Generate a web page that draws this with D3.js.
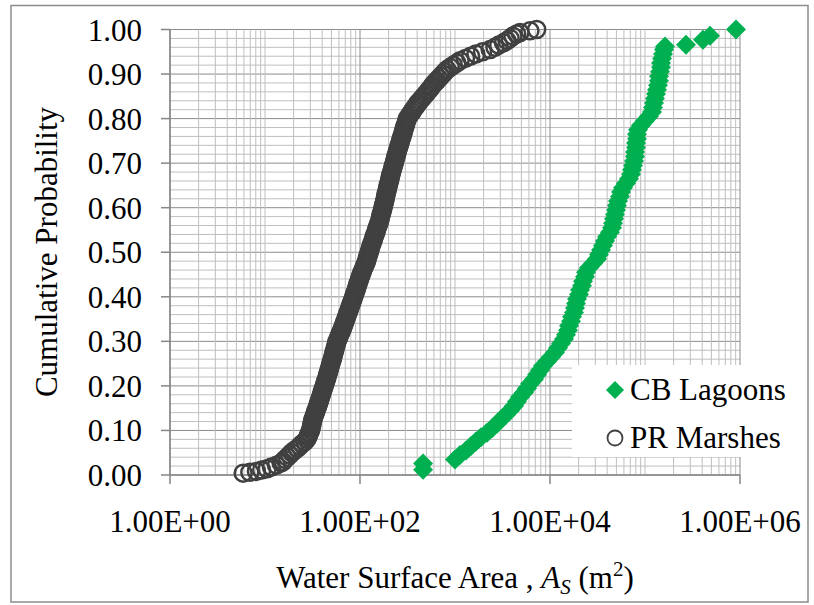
<!DOCTYPE html>
<html lang="en">
<head>
<meta charset="utf-8">
<title>Cumulative probability of water surface area</title>
<script src="https://cdn.jsdelivr.net/npm/d3@7"></script>
<style>
  body { margin: 0; background: #fff; }
</style>
</head>
<body>
<div id="drawing"></div>
<script>
// PR Marshes: water surface area (m2) and cumulative probability
var prArea = [5.89, 6.92, 8.13, 9.23, 10.5, 11.7, 13.2, 14.8,
  15.5, 16.2, 17.2, 18.2, 19.1, 20.4, 21.9, 23.2, 24.5, 26.3,
  27.5, 28.2, 28.8, 29.5, 30.2, 30.5, 30.9, 31.3, 31.6, 32.0,
  32.6, 33.3, 33.9, 34.5, 35.2, 35.9, 36.6, 37.2, 37.8, 38.5,
  39.3, 39.8, 40.6, 41.2, 42.0, 42.8, 43.4, 44.3, 45.0, 45.7,
  46.5, 47.2, 47.9, 48.6, 49.4, 50.2, 51.1, 51.8, 52.5, 53.3,
  54.1, 54.8, 55.7, 56.5, 57.3, 58.6, 60.0, 61.4, 62.7, 64.1,
  65.6, 67.0, 68.2, 69.5, 70.8, 72.3, 73.6, 75.2, 76.6, 78.0,
  79.6, 81.1, 82.6, 84.3, 85.9, 87.5, 89.1, 90.8, 92.3, 94.0,
  95.5, 97.3, 99.1, 101, 103, 105, 107, 110, 112, 115,
  117, 119, 121, 123, 125, 127, 129, 131, 134, 136,
  139, 141, 144, 147, 149, 152, 155, 158, 161, 163,
  165, 167, 170, 172, 175, 177, 179, 182, 184, 186,
  188, 191, 193, 196, 198, 201, 204, 207, 209, 212,
  215, 219, 222, 225, 229, 232, 236, 239, 243, 246,
  250, 255, 259, 263, 267, 272, 277, 281, 286, 290,
  295, 300, 305, 310, 315, 327, 339, 352, 365, 379,
  394, 408, 428, 448, 469, 491, 514, 538, 562, 582,
  611, 643, 676, 708, 745, 783, 824, 891, 962, 1047,
  1130, 1288, 1462, 1660, 1950, 2344, 2630, 2884, 3236, 3524,
  3802, 4074, 4467, 4831, 6150, 7240];
var prProb = [0.004, 0.006, 0.008, 0.011, 0.014, 0.018, 0.022, 0.027,
  0.030, 0.035, 0.040, 0.045, 0.050, 0.055, 0.060, 0.065, 0.070, 0.075,
  0.080, 0.085, 0.090, 0.095, 0.100, 0.105, 0.110, 0.115, 0.120, 0.125,
  0.130, 0.135, 0.140, 0.145, 0.150, 0.155, 0.160, 0.165, 0.170, 0.175,
  0.180, 0.185, 0.190, 0.195, 0.200, 0.205, 0.210, 0.215, 0.220, 0.225,
  0.230, 0.235, 0.240, 0.245, 0.250, 0.255, 0.260, 0.265, 0.270, 0.275,
  0.280, 0.285, 0.290, 0.295, 0.300, 0.305, 0.310, 0.315, 0.320, 0.325,
  0.330, 0.335, 0.340, 0.345, 0.350, 0.355, 0.360, 0.365, 0.370, 0.375,
  0.380, 0.385, 0.390, 0.395, 0.400, 0.405, 0.410, 0.415, 0.420, 0.425,
  0.430, 0.435, 0.440, 0.445, 0.450, 0.455, 0.460, 0.465, 0.470, 0.475,
  0.480, 0.485, 0.490, 0.495, 0.500, 0.505, 0.510, 0.515, 0.520, 0.525,
  0.530, 0.535, 0.540, 0.545, 0.550, 0.555, 0.560, 0.565, 0.570, 0.575,
  0.580, 0.585, 0.590, 0.595, 0.600, 0.605, 0.610, 0.615, 0.620, 0.625,
  0.630, 0.635, 0.640, 0.645, 0.650, 0.655, 0.660, 0.665, 0.670, 0.675,
  0.680, 0.685, 0.690, 0.695, 0.700, 0.705, 0.710, 0.715, 0.720, 0.725,
  0.730, 0.735, 0.740, 0.745, 0.750, 0.755, 0.760, 0.765, 0.770, 0.775,
  0.780, 0.785, 0.790, 0.795, 0.800, 0.805, 0.810, 0.815, 0.820, 0.825,
  0.830, 0.835, 0.840, 0.845, 0.850, 0.855, 0.860, 0.865, 0.870, 0.875,
  0.880, 0.885, 0.890, 0.895, 0.900, 0.905, 0.910, 0.915, 0.920, 0.925,
  0.930, 0.935, 0.940, 0.945, 0.950, 0.955, 0.960, 0.965, 0.970, 0.975,
  0.980, 0.985, 0.990, 0.993, 0.997, 1.000];

// CB Lagoons
var cbArea = [461, 461, 1000, 1129, 1306, 1474, 1664, 1878, 2172, 2452,
  2768, 3050, 3443, 3793, 4180, 4493, 4833, 5324, 5726, 6158,
  6785, 7298, 7848, 8440, 9299, 10245, 11290, 12140, 13060, 14040,
  14740, 15470, 15850, 16640, 17040, 17890, 18330, 18780, 19240, 20200,
  20690, 21720, 22260, 23360, 23930, 25730, 28360, 31240, 32800, 34430,
  36140, 37930, 39810, 42810, 44940, 46040, 47170, 48330, 49510, 50730,
  51970, 54560, 55900, 58670, 63100, 67850, 71220, 72970, 74760, 76600,
  78480, 78480, 80400, 80400, 82380, 82380, 84400, 90770, 100000, 110200,
  118500, 121400, 124400, 127400, 130600, 133800, 137100, 140400, 140400, 143900,
  147400, 147400, 151000, 154700, 158500, 162400, 270200, 407900, 483300, 907700];
var cbProb = [0.012, 0.026, 0.035, 0.045, 0.055, 0.065, 0.075, 0.085, 0.095, 0.105,
  0.115, 0.125, 0.135, 0.145, 0.155, 0.165, 0.175, 0.185, 0.195, 0.205,
  0.215, 0.225, 0.235, 0.245, 0.255, 0.265, 0.275, 0.285, 0.295, 0.305,
  0.315, 0.325, 0.335, 0.345, 0.355, 0.365, 0.375, 0.385, 0.395, 0.405,
  0.415, 0.425, 0.435, 0.445, 0.455, 0.465, 0.475, 0.485, 0.495, 0.505,
  0.515, 0.525, 0.535, 0.545, 0.555, 0.565, 0.575, 0.585, 0.595, 0.605,
  0.615, 0.625, 0.635, 0.645, 0.655, 0.665, 0.675, 0.685, 0.695, 0.705,
  0.715, 0.725, 0.735, 0.745, 0.755, 0.765, 0.775, 0.785, 0.795, 0.805,
  0.815, 0.825, 0.835, 0.845, 0.855, 0.865, 0.875, 0.885, 0.895, 0.905,
  0.915, 0.925, 0.935, 0.945, 0.955, 0.962, 0.966, 0.977, 0.986, 1.000];

var xTicks = [1, 1e2, 1e4, 1e6];
var yTicks = [0, 0.1, 0.2, 0.3, 0.4, 0.5, 0.6, 0.7, 0.8, 0.9, 1.0];
var seriesNames = ["CB Lagoons", "PR Marshes"];

var green = "#00b050", dark = "#404040";
var majorGrid = "#8c8c8c", minorGrid = "#bfbfbf";
var serif = "'Liberation Serif', 'Times New Roman', Times, 'DejaVu Serif', serif";

var svg = d3.select("#drawing")
    .append("svg")
    .attr("width", 814)
    .attr("height", 605)
    .attr("font-family", serif);

// chart border
svg.append("rect")
    .attr("x", 11).attr("y", 5.5)
    .attr("width", 797).attr("height", 596.5)
    .attr("fill", "none")
    .attr("stroke", "#8c8c8c")
    .attr("stroke-width", 1.5);

var x = d3.scaleLog().domain([1, 1e6]).range([170, 740]);
var y = d3.scaleLinear().domain([0, 1]).range([475, 29.5]);

function sci(v) {
    var e = Math.round(Math.log10(v));
    var m = v / Math.pow(10, e);
    return m.toFixed(2) + "E+" + (e < 10 ? "0" : "") + e;
}
function isMajorX(v) {
    return xTicks.some(function (t) { return Math.abs(t - v) / t < 1e-6; });
}

var grid = svg.append("g");

// horizontal grid, minor every 0.02
var hLines = d3.range(0, 51).map(function (i) { return i * 0.02; });
grid.selectAll("line.h").data(hLines).enter().append("line")
    .attr("x1", x(1)).attr("x2", x(1e6))
    .attr("y1", function (d) { return y(d); })
    .attr("y2", function (d) { return y(d); })
    .attr("stroke", function (d, i) { return i % 5 === 0 ? majorGrid : minorGrid; })
    .attr("stroke-width", 1);

// vertical grid, 1..9 per decade
var vLines = x.ticks();
grid.selectAll("line.v").data(vLines).enter().append("line")
    .attr("x1", function (d) { return x(d); })
    .attr("x2", function (d) { return x(d); })
    .attr("y1", y(0)).attr("y2", y(1))
    .attr("stroke", function (d) { return isMajorX(d) ? majorGrid : minorGrid; })
    .attr("stroke-width", 1);

// axes
svg.append("line")
    .attr("x1", x(1)).attr("x2", x(1e6))
    .attr("y1", y(0)).attr("y2", y(0))
    .attr("stroke", "#868686").attr("stroke-width", 1.5);
svg.append("line")
    .attr("x1", x(1)).attr("x2", x(1))
    .attr("y1", y(0)).attr("y2", y(1))
    .attr("stroke", "#868686").attr("stroke-width", 1.5);

svg.selectAll("line.xt").data(xTicks).enter().append("line")
    .attr("x1", function (d) { return x(d); })
    .attr("x2", function (d) { return x(d); })
    .attr("y1", y(0)).attr("y2", y(0) + 9)
    .attr("stroke", "#868686").attr("stroke-width", 1.5);
svg.selectAll("line.yt").data(yTicks).enter().append("line")
    .attr("x1", x(1) - 9).attr("x2", x(1))
    .attr("y1", function (d) { return y(d); })
    .attr("y2", function (d) { return y(d); })
    .attr("stroke", "#868686").attr("stroke-width", 1.5);

svg.selectAll("text.xl").data(xTicks).enter().append("text")
    .attr("x", function (d) { return x(d); })
    .attr("y", 532)
    .attr("text-anchor", "middle")
    .attr("font-size", "31px")
    .text(sci);
svg.selectAll("text.yl").data(yTicks).enter().append("text")
    .attr("x", 142)
    .attr("y", function (d) { return y(d) + 11; })
    .attr("text-anchor", "end")
    .attr("font-size", "31px")
    .text(d3.format(".2f"));

// axis titles
svg.append("text")
    .attr("transform", "translate(57,252) rotate(-90)")
    .attr("text-anchor", "middle")
    .attr("font-size", "31px")
    .text("Cumulative Probability");

var xt = svg.append("text")
    .attr("x", 455).attr("y", 588)
    .attr("text-anchor", "middle")
    .attr("font-size", "31px");
xt.append("tspan").text("Water Surface Area , ");
xt.append("tspan").attr("font-style", "italic").text("A");
xt.append("tspan").attr("font-style", "italic").attr("font-size", "21px").attr("dy", 6).text("S");
xt.append("tspan").attr("dy", -6).text(" (m");
xt.append("tspan").attr("font-size", "21px").attr("dy", -12).text("2");
xt.append("tspan").attr("dy", 12).text(")");

// markers
var diamond = "M0,-10L10,0L0,10L-10,0Z";

var prData = prArea.map(function (a, i) { return [a, prProb[i]]; });
var cbData = cbArea.map(function (a, i) { return [a, cbProb[i]]; });

svg.append("g").selectAll("circle").data(prData).enter().append("circle")
    .attr("cx", function (d) { return x(d[0]); })
    .attr("cy", function (d) { return y(d[1]); })
    .attr("r", 8.5)
    .attr("fill", "none")
    .attr("stroke", dark)
    .attr("stroke-width", 2.5);

svg.append("g").selectAll("path").data(cbData).enter().append("path")
    .attr("d", diamond)
    .attr("transform", function (d) { return "translate(" + x(d[0]) + "," + y(d[1]) + ")"; })
    .attr("fill", green);

// legend
var legend = svg.append("g");
legend.append("rect")
    .attr("x", 572).attr("y", 365)
    .attr("width", 232).attr("height", 92)
    .attr("fill", "#fff");
legend.append("path")
    .attr("d", "M0,-9L9,0L0,9L-9,0Z")
    .attr("transform", "translate(615,390)")
    .attr("fill", green);
legend.append("circle")
    .attr("cx", 615).attr("cy", 438).attr("r", 7.5)
    .attr("fill", "none").attr("stroke", dark).attr("stroke-width", 1.8);
legend.selectAll("text").data(seriesNames).enter().append("text")
    .attr("x", 630)
    .attr("y", function (d, i) { return 400 + i * 48; })
    .attr("font-size", "31px")
    .text(function (d) { return d; });
</script>
</body>
</html>
